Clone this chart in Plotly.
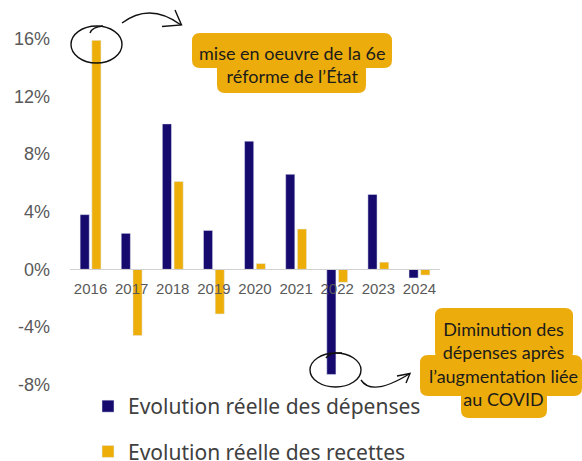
import plotly.graph_objects as go

years = ["2016", "2017", "2018", "2019", "2020", "2021", "2022", "2023", "2024"]
depenses = [3.8, 2.5, 10.1, 2.7, 8.9, 6.6, -7.3, 5.2, -0.6]
recettes = [15.9, -4.6, 6.1, -3.1, 0.4, 2.8, -0.9, 0.5, -0.4]
y_ticks = [-8, -4, 0, 4, 8, 12, 16]
y_labels = ["-8%", "-4%", "0%", "4%", "8%", "12%", "16%"]
name_dep = "Evolution réelle des dépenses"
name_rec = "Evolution réelle des recettes"
note1 = "mise en oeuvre de la 6e<br>réforme de l’État"
note2 = "Diminution des<br>dépenses après<br>l’augmentation liée<br>au COVID"

W, H = 582, 461
L, R, T, B = 70, 142, 30, 71
PW, PH = W - L - R, H - T - B
YMIN, YMAX = -8.38, 16.62

NAVY = "#160a6e"
GOLD = "#edae0a"
BOX = "#ebac0c"


def px(x):
    return (x - L) / PW


def py(y):
    return (H - B - y) / PH


def rrect(x0, y0, x1, y1, r=8):
    rx, ry = r / PW, r / PH
    a, b, c, d = px(x0), py(y1), px(x1), py(y0)
    return (f"M{a+rx},{b} L{c-rx},{b} Q{c},{b} {c},{b+ry} L{c},{d-ry} Q{c},{d} {c-rx},{d} "
            f"L{a+rx},{d} Q{a},{d} {a},{d-ry} L{a},{b+ry} Q{a},{b} {a+rx},{b} Z")


def pth(cmds):
    out = []
    for c, pts in cmds:
        out.append(c + " ".join(f"{px(x)},{py(y)}" for x, y in pts))
    return " ".join(out)


fig = go.Figure()
fig.add_trace(go.Bar(x=years, y=depenses, name=name_dep, marker_color=NAVY,
                     legendgroup="a"))
fig.add_trace(go.Bar(x=years, y=recettes, name=name_rec, marker_color=GOLD,
                     legendgroup="b"))

shapes = []
for (x0, y0, x1, y1) in [(192, 33, 392, 68), (217, 58, 366, 93),
                         (435, 308, 573, 360), (420, 355, 582, 396), (461, 390, 547, 418)]:
    shapes.append(dict(type="path", xref="paper", yref="paper", path=rrect(x0, y0, x1, y1),
                       fillcolor=BOX, line=dict(width=0), layer="above"))

line = dict(color="#111111", width=1.4)
# ellipses
for (x0, y0, x1, y1) in [(71, 26, 122, 63), (310, 353, 361, 387)]:
    shapes.append(dict(type="circle", xref="paper", yref="paper", x0=px(x0), x1=px(x1),
                       y0=py(y1), y1=py(y0), line=line, layer="above"))
# ticks of hand-drawn ellipses
shapes.append(dict(type="path", xref="paper", yref="paper", line=line,
                   path=pth([("M", [(90, 33)]), ("Q", [(92, 27), (103, 26)])])))
shapes.append(dict(type="path", xref="paper", yref="paper", line=line,
                   path=pth([("M", [(326, 358)]), ("Q", [(330, 352), (342, 353)])])))
# arrows
shapes.append(dict(type="path", xref="paper", yref="paper", line=line,
                   path=pth([("M", [(122, 23)]), ("Q", [(150, 2), (181, 25)])])))
shapes.append(dict(type="path", xref="paper", yref="paper", line=line,
                   path=pth([("M", [(175, 10)]), ("L", [(181.5, 25)]), ("L", [(162, 26.5)])])))
shapes.append(dict(type="path", xref="paper", yref="paper", line=line,
                   path=pth([("M", [(361, 380)]), ("Q", [(372, 397), (410, 373.5)])])))
shapes.append(dict(type="path", xref="paper", yref="paper", line=line,
                   path=pth([("M", [(397, 376)]), ("L", [(410, 373.5)]), ("L", [(406, 383)])])))

annots = [
    dict(text=note1, x=px(292), y=py(64), xref="paper", yref="paper", showarrow=False,
         xanchor="center", yanchor="middle",
         font=dict(family="Lato", size=18, color="#1b1b1b"), align="center"),
    dict(text=note2, x=px(503), y=py(364), xref="paper", yref="paper", showarrow=False,
         xanchor="center", yanchor="middle",
         font=dict(family="Lato", size=18, color="#1b1b1b"), align="center"),
]

fig.update_layout(
    width=W, height=H,
    margin=dict(l=L, r=R, t=T, b=B, pad=0, autoexpand=False),
    paper_bgcolor="white", plot_bgcolor="white",
    barmode="group", bargap=0.43, bargroupgap=0.22,
    showlegend=True,
    legend=dict(x=px(88), y=py(386), xanchor="left", yanchor="top",
                traceorder="grouped", tracegroupgap=15,
                font=dict(family="Noto Sans", size=21, color="#404040"),
                bgcolor="rgba(0,0,0,0)"),
    xaxis=dict(type="category", showgrid=False, zeroline=False, showline=True,
               linecolor="#d0d0d0", linewidth=1, anchor="free",
               position=(0 - YMIN) / (YMAX - YMIN), ticks="", ticklabelstandoff=6,
               tickfont=dict(family="Liberation Sans", size=15, color="#595959")),
    yaxis=dict(range=[YMIN, YMAX], showgrid=False, zeroline=False, showline=False,
               tickvals=y_ticks, ticktext=y_labels, ticks="", ticklabelstandoff=19,
               tickfont=dict(family="Liberation Sans", size=18, color="#595959")),
    shapes=shapes, annotations=annots,
)

fig.write_html("out.html", config={"displayModeBar": False},
               post_script="document.body.style.margin='0';")
